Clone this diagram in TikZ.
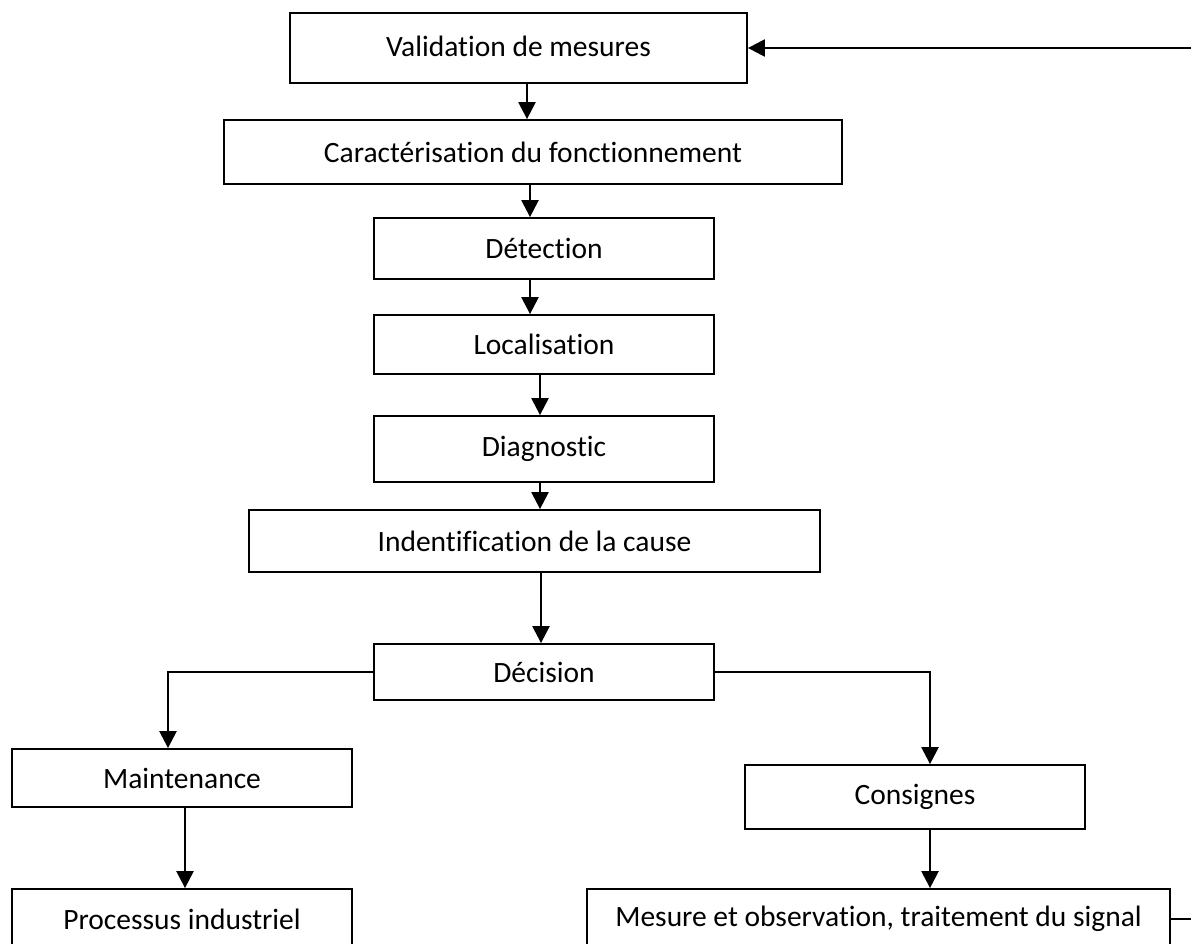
\documentclass[tikz,border=0pt]{standalone}
\usepackage{fontspec}
\setmainfont{Carlito}[Ligatures={NoCommon,NoContextual}]
\usetikzlibrary{arrows.meta}
\begin{document}
\begin{tikzpicture}[x=1pt,y=-1pt,
  box/.style={draw=black,line width=1.8pt,inner sep=0pt,font=\fontsize{29.5}{35}\selectfont,text=black},
  arr/.style={draw=black,line width=2.4pt,-{Triangle[length=17pt,width=17pt]}},
  ln/.style={draw=black,line width=2.4pt}]
\clip (0,0) rectangle (1191,944);
\fill[white] (0,0) rectangle (1191,944);
\node[box,minimum width=457pt,minimum height=70pt] (val) at (518.5,48) {\raisebox{3pt}{Validation de mesures}};
\node[box,minimum width=618pt,minimum height=64pt] (car) at (533,152) {Caractérisation du fonctionnement};
\node[box,minimum width=340pt,minimum height=61pt] (det) at (544,248.5) {Détection};
\node[box,minimum width=340pt,minimum height=59pt] (loc) at (544,344.5) {Localisation};
\node[box,minimum width=340pt,minimum height=66pt] (diag) at (544,449) {Diagnostic};
\node[box,minimum width=571pt,minimum height=62pt] (ind) at (534.5,541) {Indentification de la cause};
\node[box,minimum width=340pt,minimum height=56pt] (dec) at (544,672) {Décision};
\node[box,minimum width=340pt,minimum height=58pt] (maint) at (182,778) {Maintenance};
\node[box,minimum width=340pt,minimum height=60pt] (proc) at (182,919) {Processus industriel};
\node[box,minimum width=340pt,minimum height=64pt] (cons) at (915,797) {Consignes};
\node[box,minimum width=583pt,minimum height=60pt] (mes) at (878.5,919) {Mesure et observation, traitement du signal};

\draw[arr] (527,0 |- val.south) -- (527,0 |- car.north);
\draw[arr] (530,0 |- car.south) -- (530,0 |- det.north);
\draw[arr] (530,0 |- det.south) -- (530,0 |- loc.north);
\draw[arr] (540,0 |- loc.south) -- (540,0 |- diag.north);
\draw[arr] (540,0 |- diag.south) -- (540,0 |- ind.north);
\draw[arr] (541,0 |- ind.south) -- (541,0 |- dec.north);
\draw[arr] (dec.west) -| (168,0 |- maint.north);
\draw[arr] (dec.east) -| (930,0 |- cons.north);
\draw[arr] (185,0 |- maint.south) -- (185,0 |- proc.north);
\draw[arr] (930,0 |- cons.south) -- (930,0 |- mes.north);
\draw[arr] (mes.east) -- ++(40,0) |- (val.east);
\end{tikzpicture}
\end{document}
